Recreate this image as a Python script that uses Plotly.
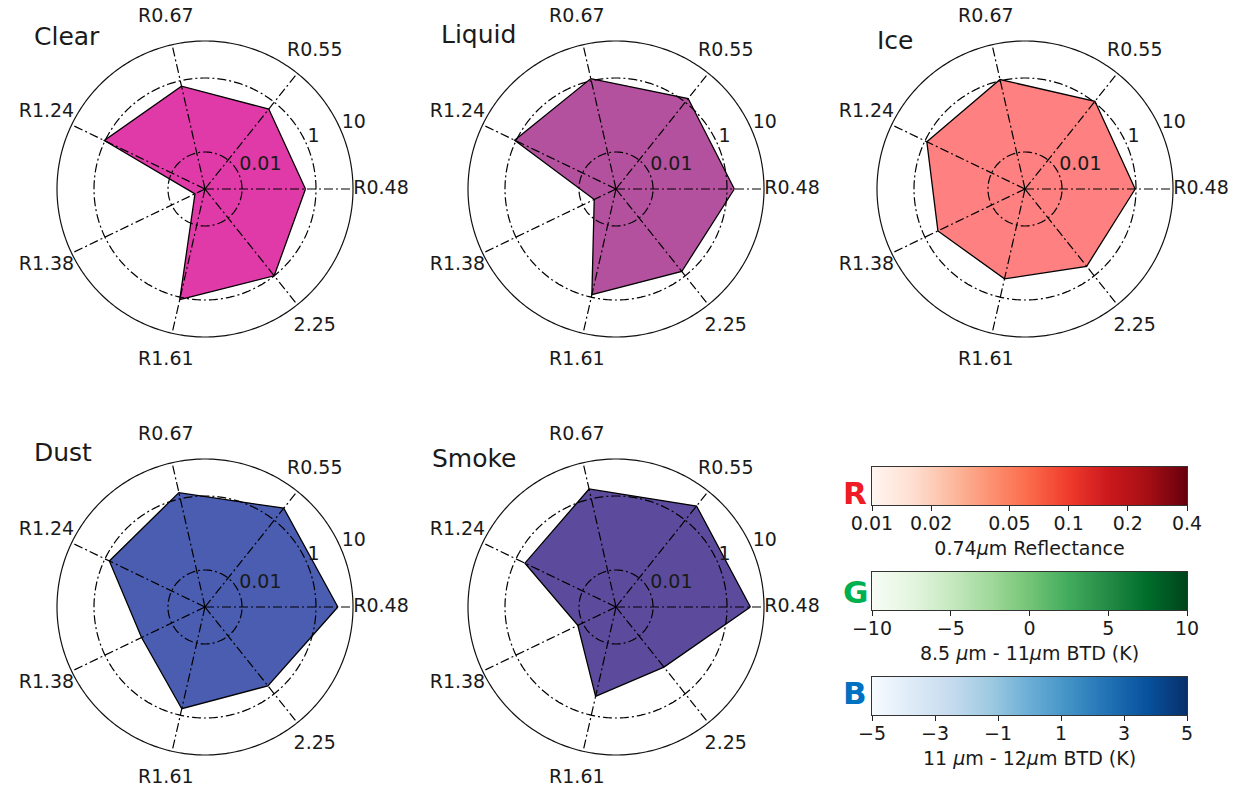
import numpy as np
import plotly.graph_objects as go
import plotly.colors as pc

# ---------------- data ----------------
categories = ["R0.48", "R0.55", "R0.67", "R1.24", "R1.38", "R1.61", "2.25"]
class_names = ["Clear", "Liquid", "Ice", "Dust", "Smoke"]
clear = [0.52, 0.58, 0.71, 1.05, 0.002, 1.17, 1.0]
liquid = [1.58, 1.34, 1.15, 1.10, 0.0045, 0.85, 0.71]
ice = [0.95, 1.08, 1.08, 0.88, 0.41, 0.31, 0.47]
dust = [3.9, 2.6, 1.48, 0.74, 0.08, 0.66, 0.53]
smoke = [4.3, 3.1, 1.87, 0.54, 0.014, 0.30, 0.12]
fill_colors = ["#E03AA8", "#B4519E", "#FF8080", "#4A5DB1", "#5C4B9C"]

radial_ticks = [0.01, 1, 10]
radial_labels = ["0.01", "1", "10"]
radial_min = 0.001
radial_label_angle = 22.5

refl_ticks = [0.01, 0.02, 0.05, 0.1, 0.2, 0.4]
btd85_ticks = [-10, -5, 0, 5, 10]
btd12_ticks = [-5, -3, -1, 1, 3, 5]
cbar_titles = ["0.74<i>μ</i>m Reflectance", "8.5 <i>μ</i>m - 11<i>μ</i>m BTD (K)",
               "11 <i>μ</i>m - 12<i>μ</i>m BTD (K)"]
cbar_letters = ["R", "G", "B"]
letter_colors = ["#EE1C25", "#00B050", "#0070C0"]

# ---------------- layout constants ----------------
W, H = 1245, 790
FONT = "DejaVu Sans"
TXT = "#1a1a1a"
radius = 148                # px, radius of the outer (r=10) circle
label_radius = 176          # px, centre of the angular labels
centers = [(205, 189), (616, 189), (1025, 189), (205, 607), (616, 607)]
title_pos = [(32, 36), (439, 34), (875, 40), (32, 453), (430, 458)]
dash = "9px,3px,2px,3px"

series = [clear, liquid, ice, dust, smoke]
thetas = [i * 360.0 / len(categories) for i in range(len(categories))]
log_lo, log_10 = np.log10(radial_min), np.log10(radial_ticks[-1])
# the polar area extends out to the label ring; r=10 sits at `radius` px
log_hi = log_lo + (log_10 - log_lo) * label_radius / radius
label_r = 10 ** log_hi

fig = go.Figure()
layout = dict(width=W, height=H, autosize=False,
              margin=dict(l=0, r=0, t=0, b=0, pad=0, autoexpand=False),
              paper_bgcolor="white", plot_bgcolor="white", showlegend=False,
              font=dict(family=FONT, color=TXT, size=19))
annotations = []

circle_theta = np.linspace(0, 360, 361)
for i, (name, vals) in enumerate(zip(class_names, series)):
    pk = "polar" if i == 0 else f"polar{i+1}"
    cx, cy = centers[i]
    layout[pk] = dict(
        domain=dict(x=[(cx - label_radius) / W, (cx + label_radius) / W],
                    y=[1 - (cy + label_radius) / H, 1 - (cy - label_radius) / H]),
        bgcolor="rgba(0,0,0,0)",
        radialaxis=dict(type="log", range=[log_lo, log_hi],
                        tickvals=radial_ticks, showticklabels=False,
                        angle=radial_label_angle,
                        showline=False, showgrid=False, ticks=""),
        angularaxis=dict(tickmode="array", tickvals=thetas, ticktext=categories,
                         showticklabels=False,
                         direction="counterclockwise", rotation=0,
                         showline=False, showgrid=False, ticks=""),
    )
    # filled polygon
    fig.add_trace(go.Scatterpolar(
        r=vals + vals[:1], theta=thetas + thetas[:1], mode="lines",
        fill="toself", fillcolor=fill_colors[i],
        line=dict(color="black", width=1.3), subplot=pk, hoverinfo="skip"))
    # grid rings drawn above fill
    for rv in radial_ticks[:-1]:
        fig.add_trace(go.Scatterpolar(
            r=[rv] * len(circle_theta), theta=circle_theta, mode="lines",
            line=dict(color="black", width=1.2, dash=dash), subplot=pk, hoverinfo="skip"))
    # outer frame circle (r = 10)
    fig.add_trace(go.Scatterpolar(
        r=[radial_ticks[-1]] * len(circle_theta), theta=circle_theta, mode="lines",
        line=dict(color="#111", width=1.2), subplot=pk, hoverinfo="skip"))
    # spokes
    for t in thetas:
        fig.add_trace(go.Scatterpolar(
            r=[radial_min, radial_ticks[-1]], theta=[t, t], mode="lines",
            line=dict(color="black", width=1.2, dash=dash), subplot=pk, hoverinfo="skip"))
    # radial tick labels (left/bottom aligned at the tick)
    fig.add_trace(go.Scatterpolar(
        r=radial_ticks, theta=[radial_label_angle] * len(radial_ticks), mode="text",
        text=radial_labels, textposition="top right", cliponaxis=False,
        textfont=dict(size=19, color=TXT, family=FONT), subplot=pk, hoverinfo="skip"))
    # angular tick labels, centred outside the circle
    fig.add_trace(go.Scatterpolar(
        r=[label_r] * len(categories), theta=thetas, mode="text",
        text=categories, textposition="middle center", cliponaxis=False,
        textfont=dict(size=19, color=TXT, family=FONT), subplot=pk, hoverinfo="skip"))
    tx, ty = title_pos[i]
    annotations.append(dict(text=name, x=tx / W, y=1 - ty / H, xref="paper", yref="paper",
                            xanchor="left", yanchor="middle", showarrow=False,
                            font=dict(size=25, color=TXT, family=FONT)))

# ---------------- colour bars ----------------
bar_x = (872, 1187)
bar_y = [(467, 505), (572, 610), (677, 715)]
letter_y = [493, 592, 693]
scales = [pc.sequential.Reds, pc.sequential.Greens, pc.sequential.Blues]
ranges = [(np.log10(refl_ticks[0]), np.log10(refl_ticks[-1])),
          (btd85_ticks[0], btd85_ticks[-1]),
          (btd12_ticks[0], btd12_ticks[-1])]
tickvals_list = [list(np.log10(refl_ticks)), btd85_ticks, btd12_ticks]
ticktext_list = [[f"{t:g}" for t in refl_ticks],
                 [f"{t}".replace("-", "−") for t in btd85_ticks],
                 [f"{t}".replace("-", "−") for t in btd12_ticks]]

for k in range(3):
    xa = "x" if k == 0 else f"x{k+1}"
    ya = "y" if k == 0 else f"y{k+1}"
    lo, hi = ranges[k]
    grad = np.linspace(lo, hi, 300)
    fig.add_trace(go.Heatmap(z=[grad], x=grad, y=[0], colorscale=scales[k],
                             zmin=lo, zmax=hi, showscale=False, xaxis=xa, yaxis=ya,
                             hoverinfo="skip"))
    xk = "xaxis" if k == 0 else f"xaxis{k+1}"
    yk = "yaxis" if k == 0 else f"yaxis{k+1}"
    y0, y1 = bar_y[k]
    layout[xk] = dict(domain=[bar_x[0] / W, bar_x[1] / W], anchor=ya, range=[lo, hi],
                      tickmode="array", tickvals=tickvals_list[k], ticktext=ticktext_list[k],
                      ticks="outside", ticklen=5, tickwidth=1, tickcolor="#222",
                      ticklabelstandoff=-4,
                      showline=True, mirror=True, linecolor="#333", linewidth=1,
                      showgrid=False, zeroline=False, automargin=False,
                      tickfont=dict(size=19, color=TXT, family=FONT),
                      title=dict(text=cbar_titles[k], standoff=8,
                                 font=dict(size=19, color=TXT, family=FONT)))
    layout[yk] = dict(domain=[1 - y1 / H, 1 - y0 / H], anchor=xa, range=[-0.5, 0.5],
                      showticklabels=False, ticks="", showline=True, mirror=True,
                      linecolor="#333", linewidth=1, showgrid=False, zeroline=False,
                      automargin=False)
    annotations.append(dict(text=f"<b>{cbar_letters[k]}</b>", x=855 / W, y=1 - letter_y[k] / H,
                            xref="paper", yref="paper", xanchor="center", yanchor="middle",
                            showarrow=False,
                            font=dict(size=31, color=letter_colors[k], family=FONT)))

layout["annotations"] = annotations
fig.update_layout(**layout)
fig.write_html("out.html", config={"displayModeBar": False},
               post_script="document.body.style.margin='0px';")
